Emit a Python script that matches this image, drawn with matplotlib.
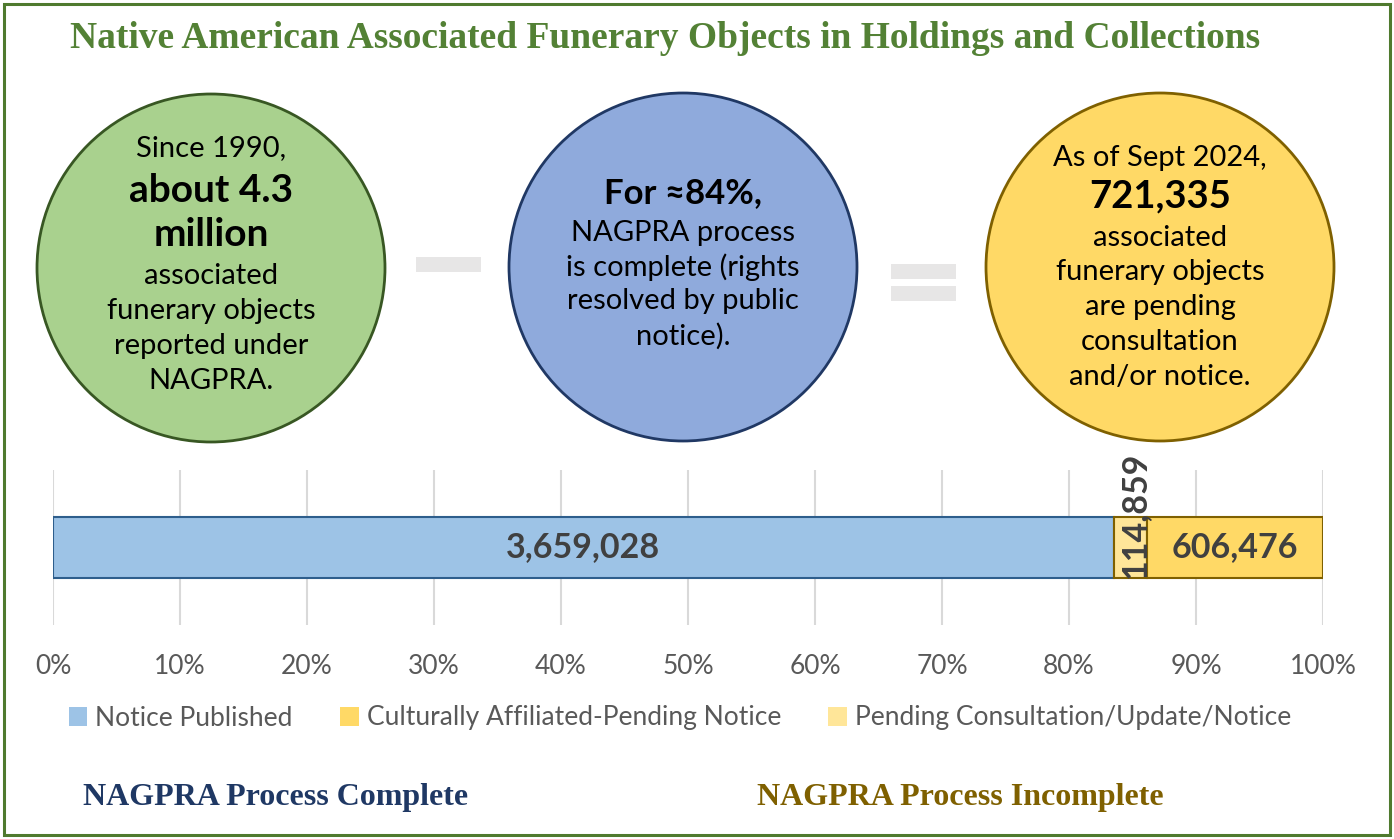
import matplotlib
matplotlib.use("Agg")
import matplotlib.pyplot as plt
import numpy as np
from matplotlib.patches import Circle, Rectangle, Patch
from matplotlib.ticker import PercentFormatter

# data
categories = ["Notice Published", "Culturally Affiliated-Pending Notice",
              "Pending Consultation/Update/Notice"]
counts = [3659028, 606476, 114859]
colors = ["#9DC3E6", "#FFD966", "#FFE699"]
edges = ["#2E5E8C", "#7F6000", "#7F6000"]
stack_order = [0, 2, 1]   # left-to-right order in the bar

title = "Native American Associated Funerary Objects in Holdings and Collections"
green_lines = [("Since 1990,", 0), ("about 4.3", 28), ("million", 28),
               ("associated", 0), ("funerary objects", 0),
               ("reported under", 0), ("NAGPRA.", 0)]
blue_lines = [("For \u224884%,", 25), ("NAGPRA process", 0),
              ("is complete (rights", 0), ("resolved by public", 0),
              ("notice).", 0)]
yellow_lines = [("As of Sept 2024,", 0), ("721,335", 27.5),
                ("associated", 0), ("funerary objects", 0),
                ("are pending", 0), ("consultation", 0),
                ("and/or notice.", 0)]

W, H = 1394, 839
fig = plt.figure(figsize=(W / 100, H / 100), dpi=100)
sans = ["Lato", "DejaVu Sans"]
serif = "Liberation Serif"

# full-figure overlay in pixel units for the infographic parts
bg = fig.add_axes([0, 0, 1, 1])
bg.set_xlim(0, W)
bg.set_ylim(H, 0)
bg.axis("off")

bg.add_patch(Rectangle((4, 4), W - 8, H - 8, fill=False, ec="#4F7A2E", lw=2.2))
bg.text(665, 38, title, ha="center", va="center", family=serif,
        weight="bold", size=27, color="#538135")


def bubble(cx, cy, fc, ec, lines, ys):
    bg.add_patch(Circle((cx, cy), 174, fc=fc, ec=ec, lw=2))
    for (txt, bsize), y in zip(lines, ys):
        bg.text(cx, y, txt, ha="center", va="center", family=sans,
                weight="bold" if bsize else "normal",
                size=bsize if bsize else 21, color="black")


bubble(211, 268, "#A9D18E", "#385723", green_lines,
       [148, 190, 234, 276, 311, 346, 381])
bubble(683, 267, "#8FAADC", "#203864", blue_lines,
       [193, 233, 267, 301, 336])
bubble(1160, 267, "#FFD966", "#7F6000", yellow_lines,
       [158, 196, 238, 272, 307, 342, 377])

# minus and equals signs
bg.add_patch(Rectangle((416, 257), 65, 15, fc="#E7E6E6", ec="none"))
bg.add_patch(Rectangle((891, 264), 65, 15, fc="#E7E6E6", ec="none"))
bg.add_patch(Rectangle((891, 286), 65, 15, fc="#E7E6E6", ec="none"))

bg.text(276, 797, "NAGPRA Process Complete", ha="center", va="center",
        family=serif, weight="bold", size=23, color="#1F3864")
bg.text(960, 797, "NAGPRA Process Incomplete", ha="center", va="center",
        family=serif, weight="bold", size=23, color="#7F6000")

# stacked 100% bar
ax = fig.add_axes([53 / W, 1 - 625 / H, 1270 / W, 155 / H])
total = sum(counts)
left = 0
for i in stack_order:
    frac = counts[i] / total
    ax.barh(0, frac, left=left, height=0.39, color=colors[i],
            edgecolor=edges[i], lw=1.5, zorder=3)
    if i == 2:
        ax.text(left + frac / 2 + 0.003, -0.195, f"{counts[i]:,}", rotation=90,
                ha="center", va="bottom", family=sans, weight="bold",
                size=24.5, color="#404040", zorder=4)
    else:
        ax.text(left + frac / 2, 0, f"{counts[i]:,}", ha="center",
                va="center", family=sans, weight="bold", size=24.5,
                color="#404040", zorder=4)
    left += frac

ax.set_xlim(0, 1)
ax.set_ylim(-0.5, 0.5)
ax.set_xticks(np.linspace(0, 1, 11))
ax.xaxis.set_major_formatter(PercentFormatter(1.0, decimals=0))
ax.set_yticks([])
ax.grid(axis="x", color="#D9D9D9", lw=1.5, zorder=0)
for s in ax.spines.values():
    s.set_visible(False)
ax.tick_params(axis="x", length=0, pad=21, labelsize=19,
               labelcolor="#595959")
for lbl in ax.get_xticklabels():
    lbl.set_family(sans)
ax.patch.set_alpha(0)

handles = [Patch(fc=c, ec="none") for c in colors]
leg = fig.legend(handles, categories, loc="center", ncol=3,
                 bbox_to_anchor=(680 / W, 1 - 718 / H), frameon=False,
                 handlelength=0.7, handleheight=0.7, handletextpad=0.3,
                 columnspacing=1.8, prop={"family": sans, "size": 19})
for t in leg.get_texts():
    t.set_color("#595959")

fig.savefig("out.png", dpi=100)
